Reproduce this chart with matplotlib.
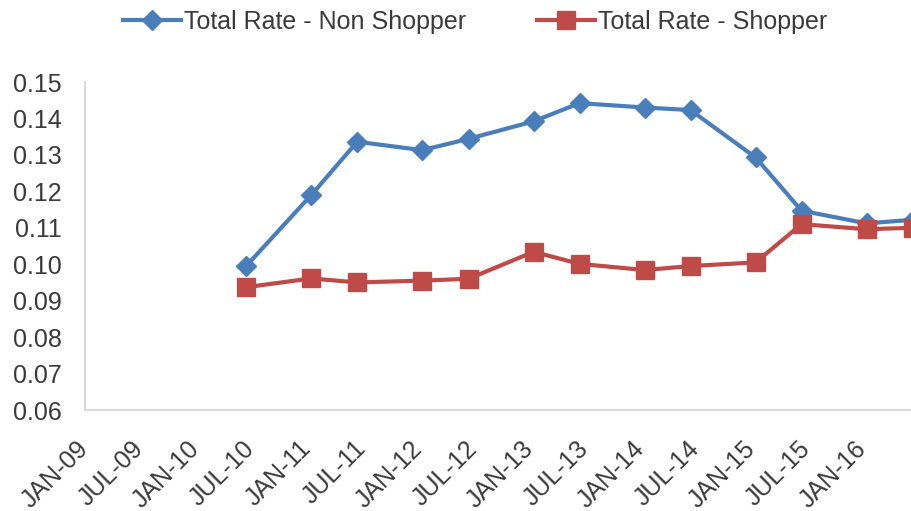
import matplotlib.pyplot as plt
from datetime import datetime

# data points sit mid-month (Excel date axis, "between tick marks")
dates = ['2010-06-15', '2011-01-15', '2011-06-15', '2012-01-15', '2012-06-15',
         '2013-01-15', '2013-06-15', '2014-01-15', '2014-06-15', '2015-01-15',
         '2015-06-15', '2016-01-15', '2016-06-15']
non_shopper = [0.0995, 0.1190, 0.1336, 0.1313, 0.1344, 0.1392, 0.1442,
               0.1430, 0.1423, 0.1293, 0.1147, 0.1112, 0.1122]
shopper = [0.0937, 0.0961, 0.0950, 0.0955, 0.0960, 0.1034, 0.1001,
           0.0984, 0.0995, 0.1005, 0.1110, 0.1096, 0.1100]

tick_dates = ['2009-01-01', '2009-07-01', '2010-01-01', '2010-07-01', '2011-01-01',
              '2011-07-01', '2012-01-01', '2012-07-01', '2013-01-01', '2013-07-01',
              '2014-01-01', '2014-07-01', '2015-01-01', '2015-07-01', '2016-01-01']
tick_labels = ['JAN-09', 'JUL-09', 'JAN-10', 'JUL-10', 'JAN-11', 'JUL-11', 'JAN-12',
               'JUL-12', 'JAN-13', 'JUL-13', 'JAN-14', 'JUL-14', 'JAN-15', 'JUL-15',
               'JAN-16']

x = [datetime.strptime(d, '%Y-%m-%d') for d in dates]
xt = [datetime.strptime(d, '%Y-%m-%d') for d in tick_dates]

plt.rcParams['font.family'] = ['Liberation Sans', 'DejaVu Sans']
txt = '#3a3a3a'

fig = plt.figure(figsize=(9.12, 5.11), dpi=100)
ax = fig.add_axes([85 / 912, (511 - 410) / 511, 833 / 912, 328 / 511])

ax.plot(x, non_shopper, color='#4A7EBB', lw=3, marker='D', markersize=10,
        label='Total Rate - Non Shopper', clip_on=False)
ax.plot(x, shopper, color='#BE4B48', lw=3, marker='s', markersize=13,
        label='Total Rate - Shopper', clip_on=False)

ax.set_xlim(datetime(2009, 1, 1), datetime(2016, 7, 2))
ax.set_ylim(0.06, 0.15)
ax.set_yticks([0.06, 0.07, 0.08, 0.09, 0.10, 0.11, 0.12, 0.13, 0.14, 0.15])
ax.yaxis.set_major_formatter(plt.FuncFormatter(lambda v, p: f'{v:.2f}'))
ax.set_xticks(xt)
ax.set_xticklabels(tick_labels, rotation=45, ha='right', va='center',
                   rotation_mode='anchor')

ax.tick_params(length=0, labelsize=18, colors=txt)
ax.tick_params(axis='y', pad=16.5)
ax.tick_params(axis='x', pad=25)
for s in ['top', 'right']:
    ax.spines[s].set_visible(False)
for s in ['left', 'bottom']:
    ax.spines[s].set_color('#D9D9D9')
    ax.spines[s].set_linewidth(1.5)

leg = fig.legend(loc='upper center', bbox_to_anchor=(0.521, 1.024), ncol=2, frameon=False,
                 fontsize=18, handlelength=2.3, handletextpad=0.12, columnspacing=2.85,
                 labelcolor=txt)

fig.savefig('out.png', dpi=100)
